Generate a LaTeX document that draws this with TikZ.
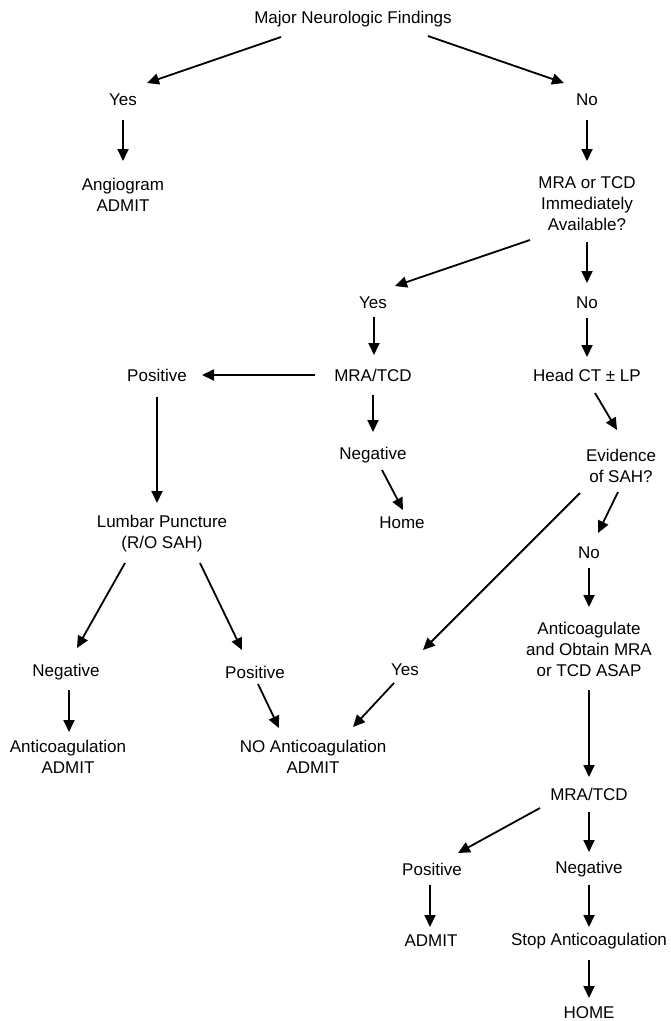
\documentclass[tikz,border=0pt]{standalone}
\usepackage{fontspec}
\setmainfont{Liberation Sans}
\usetikzlibrary{arrows.meta}
\begin{document}
\begin{tikzpicture}
% Flow chart, one unit is one pixel of the page, y runs downwards
\def\pxsz{1pt}
\providecommand{\flowLineWidth}{1.8pt}
\providecommand{\flowTextSize}{17}
\providecommand{\flowLineSkip}{21}
\begin{scope}[x=\pxsz, y=-\pxsz,
  lbl/.style={align=center, inner sep=0pt, font=\fontsize{\flowTextSize}{\flowLineSkip}\selectfont},
  flow/.style={line width=\flowLineWidth, -{Triangle[length=12pt,width=11pt]}}]
  % Page
  \useasboundingbox (0,0) rectangle (670,1021);
  % Findings and decisions
  \node[lbl] (major) at (353,19) {Major Neurologic Findings};
  \node[lbl] (yes1) at (123,100) {Yes};
  \node[lbl] (no1) at (587,100) {No};
  \node[lbl] (angio) at (123,195) {Angiogram\\ADMIT};
  \node[lbl] (avail) at (587,204) {MRA or TCD\\Immediately\\Available?};
  \node[lbl] (yes2) at (373,303) {Yes};
  \node[lbl] (no2) at (587,303) {No};
  \node[lbl] (mratcd) at (373,375) {MRA/TCD};
  \node[lbl] (pos1) at (157,375) {Positive};
  \node[lbl] (headct) at (587,375) {Head CT ± LP};
  \node[lbl] (neg1) at (373,455) {Negative};
  \node[lbl] (sah) at (621,466) {Evidence\\of SAH?};
  \node[lbl] (home1) at (402,523) {Home};
  \node[lbl] (lumbar) at (162,534) {Lumbar Puncture\\(R/O SAH)};
  \node[lbl] (no3) at (589,553) {No};
  \node[lbl] (anticoag) at (589,649) {Anticoagulate\\and Obtain MRA\\or TCD ASAP};
  \node[lbl] (neg2) at (66,672) {Negative};
  \node[lbl] (pos2) at (255,672) {Positive};
  \node[lbl] (yes3) at (405,670) {Yes};
  \node[lbl] (anticoagadm) at (68,757) {Anticoagulation\\ADMIT};
  \node[lbl] (noanti) at (313,757) {NO Anticoagulation\\ADMIT};
  \node[lbl] (mratcdb) at (589,794) {MRA/TCD};
  \node[lbl] (pos3) at (432,869) {Positive};
  \node[lbl] (neg3) at (589,869) {Negative};
  \node[lbl] (admit) at (431,941) {ADMIT};
  \node[lbl] (stop) at (589,941) {Stop Anticoagulation};
  \node[lbl] (home2) at (589,1013) {HOME};
  % Arrows
  \draw[flow] ([shift={(-72,18)}]major.center) -- ([shift={(24,-17)}]yes1.center);
  \draw[flow] ([shift={(75,17)}]major.center) -- ([shift={(-23,-17)}]no1.center);
  \draw[flow] ([shift={(0,20)}]yes1.center) -- ([shift={(0,-34)}]angio.center);
  \draw[flow] ([shift={(0,20)}]no1.center) -- ([shift={(0,-43)}]avail.center);
  \draw[flow] ([shift={(-57,36)}]avail.center) -- ([shift={(22,-17)}]yes2.center);
  \draw[flow] ([shift={(0,38)}]avail.center) -- ([shift={(0,-20)}]no2.center);
  \draw[flow] ([shift={(1,14)}]yes2.center) -- ([shift={(1,-20)}]mratcd.center);
  \draw[flow] ([shift={(0,15)}]no2.center) -- ([shift={(0,-18)}]headct.center);
  \draw[flow] ([shift={(-58,0)}]mratcd.center) -- ([shift={(45,0)}]pos1.center);
  \draw[flow] ([shift={(0,20)}]mratcd.center) -- ([shift={(0,-23)}]neg1.center);
  \draw[flow] ([shift={(8,18)}]headct.center) -- ([shift={(-4,-36)}]sah.center);
  \draw[flow] ([shift={(0,22)}]pos1.center) -- ([shift={(-5,-31)}]lumbar.center);
  \draw[flow] ([shift={(9,15)}]neg1.center) -- ([shift={(1,-13)}]home1.center);
  \draw[flow] ([shift={(-3,26)}]sah.center) -- ([shift={(9,-20)}]no3.center);
  \draw[flow] ([shift={(-41,27)}]sah.center) -- ([shift={(18,-20)}]yes3.center);
  \draw[flow] ([shift={(0,15)}]no3.center) -- ([shift={(0,-42)}]anticoag.center);
  \draw[flow] ([shift={(-37,29)}]lumbar.center) -- ([shift={(11,-24)}]neg2.center);
  \draw[flow] ([shift={(38,29)}]lumbar.center) -- ([shift={(-13,-22)}]pos2.center);
  \draw[flow] ([shift={(3,18)}]neg2.center) -- ([shift={(1,-25)}]anticoagadm.center);
  \draw[flow] ([shift={(3,12)}]pos2.center) -- ([shift={(-34,-29)}]noanti.center);
  \draw[flow] ([shift={(-11,13)}]yes3.center) -- ([shift={(40,-30)}]noanti.center);
  \draw[flow] ([shift={(0,41)}]anticoag.center) -- ([shift={(0,-17)}]mratcdb.center);
  \draw[flow] ([shift={(-49,14)}]mratcdb.center) -- ([shift={(26,-16)}]pos3.center);
  \draw[flow] ([shift={(0,18)}]mratcdb.center) -- ([shift={(0,-17)}]neg3.center);
  \draw[flow] ([shift={(-2,16)}]pos3.center) -- ([shift={(-1,-14)}]admit.center);
  \draw[flow] ([shift={(0,16)}]neg3.center) -- ([shift={(0,-14)}]stop.center);
  \draw[flow] ([shift={(0,19)}]stop.center) -- ([shift={(0,-15)}]home2.center);
\end{scope}
\end{tikzpicture}
\end{document}
